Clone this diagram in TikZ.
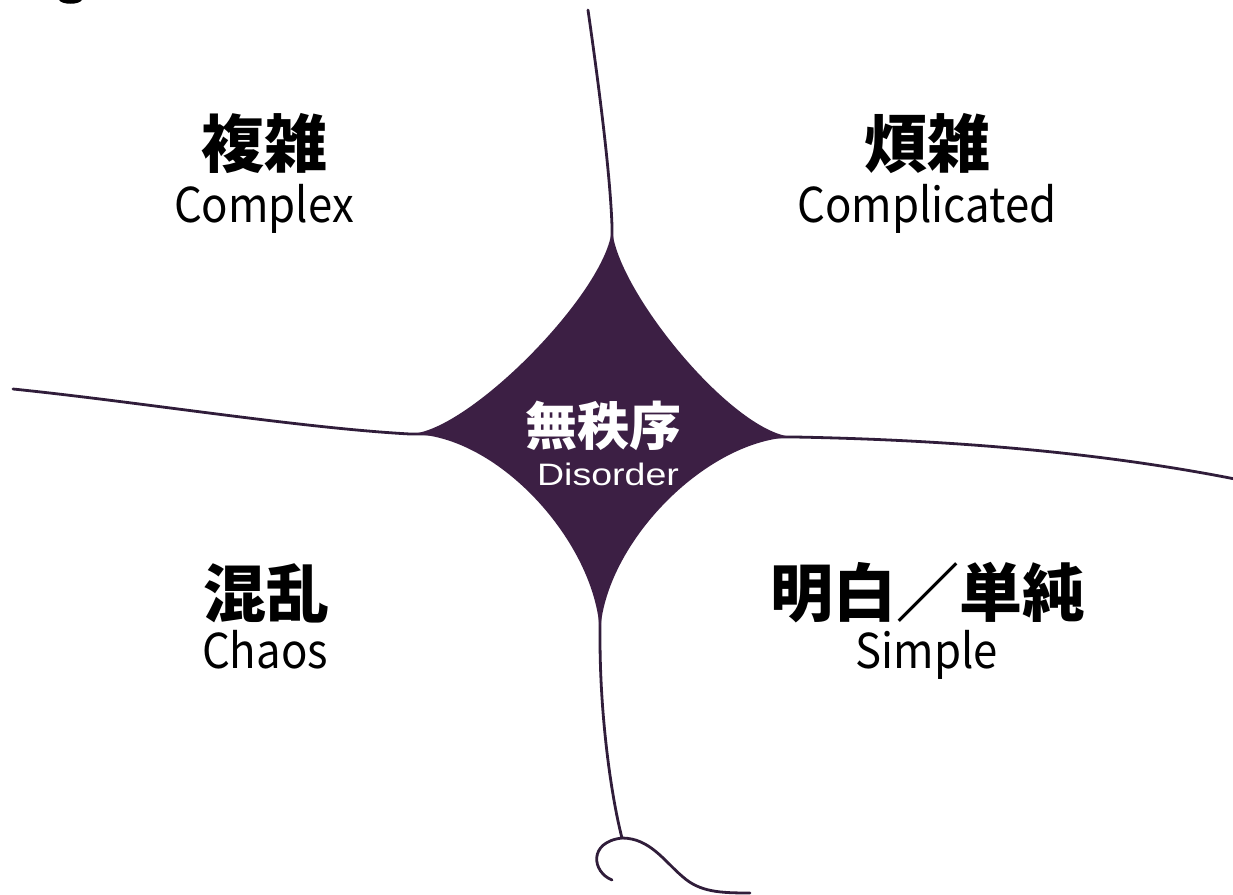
\documentclass[tikz,border=0pt]{standalone}
\usepackage{fontspec}
\newfontfamily\jp{Noto Sans CJK JP}
\newfontfamily\arialf{Liberation Sans}
\definecolor{starfill}{RGB}{60,31,68}
\definecolor{linec}{RGB}{48,29,58}
\begin{document}
\begin{tikzpicture}[x=1pt,y=-1pt,
  jplabel/.style={font=\jp\bfseries\fontsize{63}{63}\selectfont, inner sep=0pt, text=black},
  enlabel/.style={font=\jp\fontsize{48}{48}\selectfont, anchor=base, inner sep=0pt, text=black},
  axisline/.style={draw=linec, line width=2.8pt, line cap=round}]
\useasboundingbox (0,0) rectangle (1233,894);
\fill[white] (0,0) rectangle (1233,894);
% tips and ends
\coordinate (L) at (410,434);
\coordinate (T) at (612,226);
\coordinate (R) at (795,437);
\coordinate (B) at (600,638);
\coordinate (topend) at (588,10);
\coordinate (leftend) at (13,389);
\coordinate (rightend) at (1240,480);
\coordinate (J) at (622,838);
\coordinate (curlL) at (612,880);
\coordinate (curlR) at (750,893);
% axes (each runs a little into the star so no gap shows at the tips)
\draw[axisline] (topend) .. controls (598,80) and (610,170) .. (T) -- ++(0,40);
\draw[axisline] (leftend) .. controls (140,402) and (300,428) .. (L) -- ++(40,0);
\draw[axisline] (R) ++(-40,0) -- (R) .. controls (950,440) and (1100,452) .. (rightend);
\draw[axisline] (B) ++(0,-40) -- (B) .. controls (600,720) and (612,800) .. (J);
\draw[axisline] (curlL) .. controls (592,872) and (588,842) .. (J)
  .. controls (650,838) and (665,862) .. (683,877)
  .. controls (700,892) and (720,893) .. (curlR);
% disorder star
\fill[starfill] (L) .. controls (470,432) and (612,286) .. (T)
  .. controls (612,286) and (735,437) .. (R)
  .. controls (705,438) and (600,548) .. (B)
  .. controls (600,548) and (500,434) .. (L) -- cycle;
% crop artifact at top-left
\fill[black] (59,0) .. controls (62,5) and (79,5) .. (82,0) -- cycle;
% labels
\node[font=\jp\bfseries\fontsize{52}{52}\selectfont, text=white, inner sep=0pt] (dj) at (603,426) {無秩序};
\node[font=\arialf\fontsize{31}{31}\selectfont, text=white, inner sep=0pt, anchor=base] (de) at (608,485) {\scalebox{1.21}[1]{Disorder}};
\node[jplabel] (cxj) at (264,143) {複雑};
\node[enlabel] (cxe) at (264,222) {\scalebox{0.91}[1]{Complex}};
\node[jplabel] (cdj) at (927,144) {煩雑};
\node[enlabel] (cde) at (927,222) {\scalebox{0.91}[1]{Complicated}};
\node[jplabel] (chj) at (266,593) {混乱};
\node[enlabel] (che) at (265,668) {\scalebox{0.91}[1]{Chaos}};
\node[jplabel] (smj) at (928,593) {明白／単純};
\node[enlabel] (sme) at (927,668) {\scalebox{0.91}[1]{Simple}};
\end{tikzpicture}
\end{document}
